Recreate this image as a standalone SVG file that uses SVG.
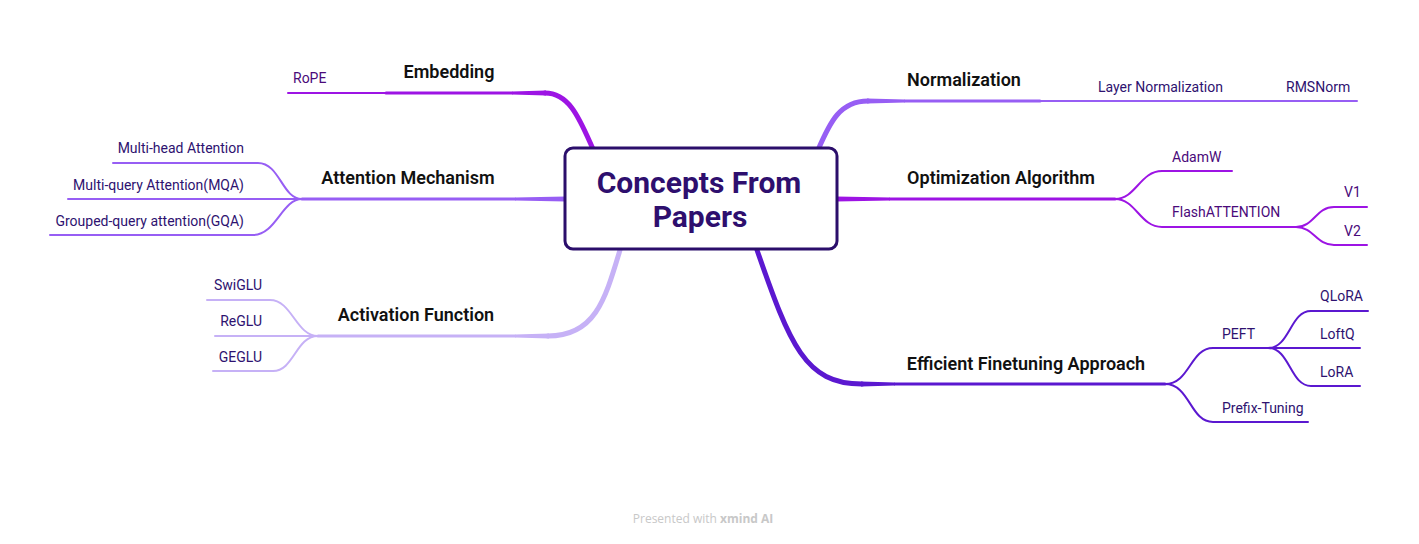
<svg xmlns="http://www.w3.org/2000/svg" width="1419" height="544" viewBox="0 0 1419 544">
<style>
.c{fill:none;stroke-linecap:round;stroke-linejoin:round}
.t{font-family:Roboto,"Liberation Sans",sans-serif;font-size:18px;font-weight:600;fill:#111}
.s{font-family:Roboto,"Liberation Sans",sans-serif;font-size:14px;fill:#2e1270}
.m{fill:#4a0a7a}
.emb{stroke:#9d14e4}
.att{stroke:#975ef4}
.act{stroke:#c6b1f6}
.eff{stroke:#5b18d0}
.femb{fill:#9d14e4}
.fatt{fill:#975ef4}
.fact{fill:#c6b1f6}
.feff{fill:#5b18d0}
.w5{stroke-width:5}
.w3{stroke-width:3}
.w2{stroke-width:2}
</style>
<rect width="1419" height="544" fill="#fff"/>
<g id="connectors">
  <!-- Embedding -->
  <path class="c emb w5" d="M593,149 C580,120 570,93 545,93"/>
  <path class="femb" d="M546,90.5 L512,91.5 L512,94.5 L546,95.5 Z"/>
  <path class="c emb w3" d="M512,93 H386"/>
  <path class="c emb w2" d="M386,93 H288"/>
  <!-- Attention -->
  <path class="fatt" d="M566,196.5 L515,197.5 L515,200.5 L566,201.5 Z"/>
  <path class="c att w3" d="M515,199 H302"/>
  <path class="c att w2" d="M302,199 C282,199 280,163 258,163 H113"/>
  <path class="c att w2" d="M302,199 H68"/>
  <path class="c att w2" d="M302,199 C282,199 276,235 253,235 H50"/>
  <!-- Activation -->
  <path class="c act w5" d="M620,250 C605,300 595,336 548,336"/>
  <path class="fact" d="M549,333.5 L515,334.5 L515,337.5 L549,338.5 Z"/>
  <path class="c act w3" d="M515,336 H318"/>
  <path class="c act w2" d="M318,336 C296,336 292,300 270,300 H207"/>
  <path class="c act w2" d="M318,336 H215"/>
  <path class="c act w2" d="M318,336 C296,336 294,371 273,371 H213"/>
  <!-- Normalization -->
  <path class="c att w5" d="M818,150 C830,122 840,101 868,101"/>
  <path class="fatt" d="M867,98.5 L905,99.5 L905,102.5 L867,103.5 Z"/>
  <path class="c att w3" d="M905,101 H1040"/>
  <path class="c att w2" d="M1040,101 H1357"/>
  <!-- Optimization -->
  <path class="femb" d="M836,196.5 L890,197.5 L890,200.5 L836,201.5 Z"/>
  <path class="c emb w3" d="M890,199 H1115"/>
  <path class="c emb w2" d="M1115,199 C1136,199 1140,171 1162,171 H1232"/>
  <path class="c emb w2" d="M1115,199 C1136,199 1140,227 1162,227 H1296"/>
  <path class="c emb w2" d="M1296,227 C1314,227 1316,207 1334,207 H1367"/>
  <path class="c emb w2" d="M1296,227 C1314,227 1316,245 1334,245 H1367"/>
  <!-- Efficient -->
  <path class="c eff w5" d="M757,250 C790,345 805,384 862,384"/>
  <path class="feff" d="M861,381.5 L895,382.5 L895,385.5 L861,386.5 Z"/>
  <path class="c eff w3" d="M895,384 H1165"/>
  <path class="c eff w2" d="M1165,384 C1190,384 1190,348 1213,348 H1268"/>
  <path class="c eff w2" d="M1165,384 C1190,384 1190,422 1213,422 H1308"/>
  <path class="c eff w2" d="M1268,348 C1290,348 1290,311 1311,311 H1368"/>
  <path class="c eff w2" d="M1268,348 H1360"/>
  <path class="c eff w2" d="M1268,348 C1290,348 1290,386 1311,386 H1360"/>
</g>
<g id="root">
  <rect x="565" y="148" width="272" height="101" rx="8" fill="#fff" stroke="#2b0e6b" stroke-width="3"/>
  <text x="699" y="193" text-anchor="middle" font-family="Roboto,'Liberation Sans',sans-serif" font-size="30" font-weight="bold" fill="#2e0f6e">Concepts From</text>
  <text x="700" y="227" text-anchor="middle" font-family="Roboto,'Liberation Sans',sans-serif" font-size="30" font-weight="bold" fill="#2e0f6e">Papers</text>
</g>
<g id="embedding"><text class="t" x="449" y="78" text-anchor="middle">Embedding</text></g>
<g id="rope"><text class="s m" x="293" y="83">RoPE</text></g>
<g id="attention"><text class="t" x="408" y="184" text-anchor="middle">Attention Mechanism</text></g>
<g id="mha"><text class="s" x="244" y="153" text-anchor="end">Multi-head Attention</text></g>
<g id="mqa"><text class="s" x="244" y="190" text-anchor="end">Multi-query Attention(MQA)</text></g>
<g id="gqa"><text class="s" x="244" y="226" text-anchor="end">Grouped-query attention(GQA)</text></g>
<g id="activation"><text class="t" x="416" y="321" text-anchor="middle">Activation Function</text></g>
<g id="swiglu"><text class="s" x="262" y="290" text-anchor="end">SwiGLU</text></g>
<g id="reglu"><text class="s" x="262" y="326" text-anchor="end">ReGLU</text></g>
<g id="geglu"><text class="s" x="262" y="362" text-anchor="end">GEGLU</text></g>
<g id="normalization"><text class="t" x="964" y="86" text-anchor="middle">Normalization</text></g>
<g id="layernorm"><text class="s" x="1098" y="92">Layer Normalization</text></g>
<g id="rmsnorm"><text class="s" x="1286" y="92">RMSNorm</text></g>
<g id="optimization"><text class="t" x="1001" y="184" text-anchor="middle">Optimization Algorithm</text></g>
<g id="adamw"><text class="s m" x="1172" y="162">AdamW</text></g>
<g id="flash"><text class="s m" x="1172" y="217">FlashATTENTION</text></g>
<g id="v1"><text class="s m" x="1344" y="197">V1</text></g>
<g id="v2"><text class="s m" x="1344" y="236">V2</text></g>
<g id="efficient"><text class="t" x="1026" y="370" text-anchor="middle">Efficient Finetuning Approach</text></g>
<g id="peft"><text class="s" x="1222" y="339">PEFT</text></g>
<g id="qlora"><text class="s" x="1320" y="301">QLoRA</text></g>
<g id="loftq"><text class="s" x="1320" y="339">LoftQ</text></g>
<g id="lora"><text class="s" x="1320" y="377">LoRA</text></g>
<g id="prefix"><text class="s" x="1222" y="413">Prefix-Tuning</text></g>
<g id="footer"><text x="703" y="523" text-anchor="middle" font-family="'Open Sans','Liberation Sans',sans-serif" font-size="12" fill="#c8c8c8">Presented with <tspan font-weight="bold">xmind AI</tspan></text></g>
</svg>
